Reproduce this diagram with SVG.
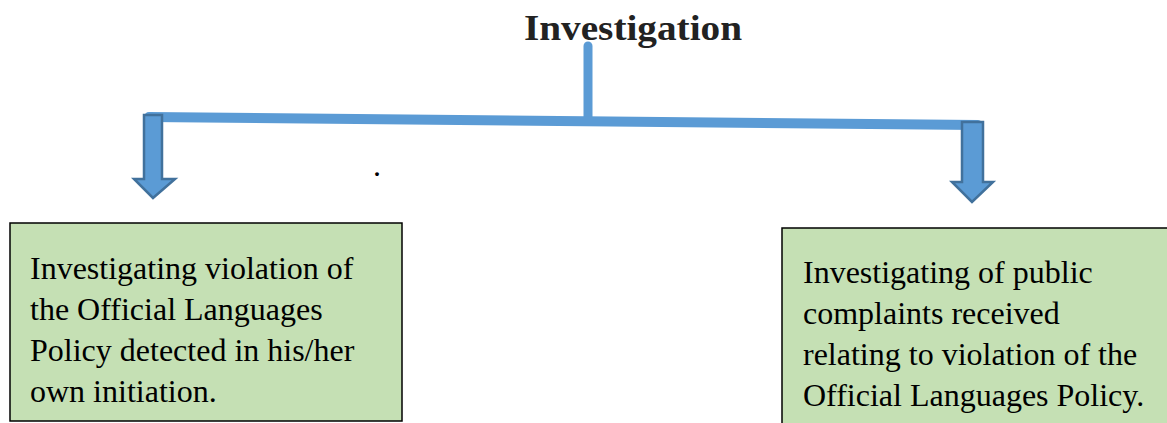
<svg xmlns="http://www.w3.org/2000/svg" width="1167" height="423" viewBox="0 0 1167 423">
<style>
.box{fill:#C5E0B4;stroke:#000;stroke-width:1.5}
.t{font-family:"Liberation Serif",serif;font-size:32px;fill:#000}
.title{font-family:"Liberation Serif",serif;font-size:36px;font-weight:bold;fill:#222}
.line{stroke:#5B9BD5;fill:none;stroke-linecap:round}
.arrow{fill:#5B9BD5;stroke:#41719C;stroke-width:2.5;stroke-linejoin:miter}
</style>
<rect width="1167" height="423" fill="#fff"/>
<g id="title"><text class="title" x="633" y="40" text-anchor="middle" textLength="218" lengthAdjust="spacingAndGlyphs">Investigation</text></g>
<g id="connectors">
<line class="line" x1="588" y1="46" x2="588" y2="118" stroke-width="9"/>
<line class="line" x1="149" y1="117" x2="978" y2="125" stroke-width="10"/>
<path class="arrow" d="M144,115 L162,115 L162,179 L175,179 L153,198 L134,179 L144,179 Z"/>
<path class="arrow" d="M962,122 L983,122 L983,182 L993,182 L972,202 L952,182 L962,182 Z"/>
</g>
<text class="t" x="373" y="176" font-size="14">.</text>
<g id="node-left">
<rect class="box" x="10" y="223" width="392" height="198"/>
<text class="t" x="30" y="279">Investigating violation of</text>
<text class="t" x="30" y="320">the Official Languages</text>
<text class="t" x="30" y="361">Policy detected in his/her</text>
<text class="t" x="30" y="402">own initiation.</text>
</g>
<g id="node-right">
<rect class="box" x="782" y="228" width="390" height="200"/>
<text class="t" x="803" y="283">Investigating of public</text>
<text class="t" x="803" y="324">complaints received</text>
<text class="t" x="803" y="365">relating to violation of the</text>
<text class="t" x="803" y="406">Official Languages Policy.</text>
</g>
</svg>
